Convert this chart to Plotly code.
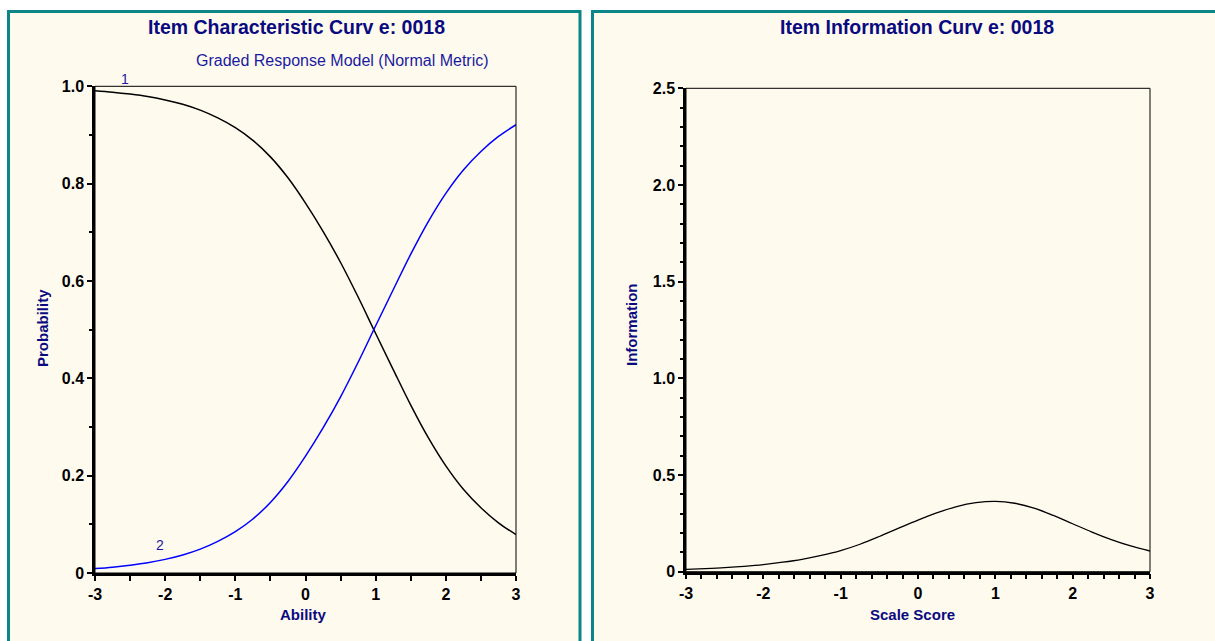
import plotly.graph_objects as go

# ---- data ----
theta = [-3.0, -2.75, -2.5, -2.25, -2.0, -1.75, -1.5, -1.25, -1.0, -0.75, -0.5, -0.25,
         0.0, 0.25, 0.5, 0.75, 1.0, 1.25, 1.5, 1.75, 2.0, 2.25, 2.5, 2.75, 3.0]
p_cat1 = [0.991, 0.988, 0.984, 0.979, 0.972, 0.963, 0.951, 0.935, 0.915, 0.889, 0.855, 0.812,
          0.760, 0.702, 0.638, 0.567, 0.492, 0.418, 0.345, 0.278, 0.220, 0.172, 0.134, 0.103, 0.079]
p_cat2 = [0.009, 0.012, 0.016, 0.021, 0.028, 0.037, 0.049, 0.065, 0.085, 0.111, 0.145, 0.188,
          0.240, 0.298, 0.362, 0.433, 0.508, 0.582, 0.655, 0.722, 0.780, 0.828, 0.866, 0.897, 0.921]
information = [0.012, 0.016, 0.021, 0.028, 0.037, 0.049, 0.064, 0.084, 0.109, 0.142, 0.182, 0.225,
               0.267, 0.305, 0.337, 0.357, 0.364, 0.354, 0.329, 0.291, 0.248, 0.205, 0.166, 0.133, 0.107]

x_ticks = [-3, -2, -1, 0, 1, 2, 3]
x_ticktext = ["-3", "-2", "-1", "0", "1", "2", "3"]
prob_ticks = [0, 0.2, 0.4, 0.6, 0.8, 1.0]
prob_ticktext = ["0", "0.2", "0.4", "0.6", "0.8", "1.0"]
info_ticks = [0, 0.5, 1.0, 1.5, 2.0, 2.5]
info_ticktext = ["0", "0.5", "1.0", "1.5", "2.0", "2.5"]

W, H = 1215, 641
NAVY = "#0a0a80"
TEAL = "#0b8585"
CREAM = "#fffaee"
FONT = "Liberation Sans, Arial, sans-serif"

def px(x):
    return x / W

def py(y):
    return 1 - y / H

fig = go.Figure()
fig.add_trace(go.Scatter(x=theta, y=p_cat1, mode="lines", line=dict(color="black", width=1.5, shape="spline"),
                         xaxis="x", yaxis="y", showlegend=False, hoverinfo="skip"))
fig.add_trace(go.Scatter(x=theta, y=p_cat2, mode="lines", line=dict(color="#0000ff", width=1.5, shape="spline"),
                         xaxis="x", yaxis="y", showlegend=False, hoverinfo="skip"))
fig.add_trace(go.Scatter(x=theta, y=information, mode="lines", line=dict(color="black", width=1.3, shape="spline"),
                         xaxis="x2", yaxis="y2", showlegend=False, hoverinfo="skip"))

tickfont = dict(family=FONT, size=16, color="black", weight="bold")

common_x = dict(range=[-3, 3], tickvals=x_ticks, ticktext=x_ticktext, ticks="outside", ticklen=5,
                tickwidth=2, tickcolor="black", showline=True, linecolor="black", linewidth=2.5,
                showgrid=False, zeroline=False, tickfont=tickfont, fixedrange=True, automargin=False)
common_y = dict(ticks="outside", ticklen=5, tickwidth=2, tickcolor="black", showline=True,
                linecolor="black", linewidth=2.5, showgrid=False, zeroline=False,
                tickfont=tickfont, fixedrange=True, automargin=False)

fig.update_layout(
    width=W, height=H,
    autosize=False,
    margin=dict(l=0, r=0, t=0, b=0, pad=0, autoexpand=False),
    paper_bgcolor="white",
    plot_bgcolor="white",
    xaxis=dict(domain=[px(95), px(516)], anchor="y",
               minor=dict(dtick=0.5, ticks="outside", ticklen=5, tickwidth=1.5, tickcolor="black"),
               **common_x),
    yaxis=dict(domain=[py(573), py(86.3)], anchor="x", range=[0, 1], tickvals=prob_ticks,
               ticktext=prob_ticktext,
               minor=dict(dtick=0.1, ticks="outside", ticklen=3, tickwidth=1.5, tickcolor="black"),
               **common_y),
    xaxis2=dict(domain=[px(686), px(1150)], anchor="y2",
                minor=dict(dtick=0.2, ticks="outside", ticklen=5, tickwidth=1.5, tickcolor="black"),
                **common_x),
    yaxis2=dict(domain=[py(571.7), py(88.3)], anchor="x2", range=[0, 2.5], tickvals=info_ticks,
                ticktext=info_ticktext,
                minor=dict(dtick=0.1, ticks="outside", ticklen=3, tickwidth=1.5, tickcolor="black"),
                **common_y),
)

shapes = [
    dict(type="rect", xref="paper", yref="paper", x0=px(8.5), x1=px(580), y0=py(648), y1=py(11.5),
         fillcolor=CREAM, line=dict(color=TEAL, width=3), layer="below"),
    dict(type="rect", xref="paper", yref="paper", x0=px(592.5), x1=px(1222), y0=py(648), y1=py(11.5),
         fillcolor=CREAM, line=dict(color=TEAL, width=3), layer="below"),
    dict(type="rect", xref="x domain", yref="y domain", x0=0, x1=1, y0=0, y1=1,
         line=dict(color="black", width=1), layer="above"),
    dict(type="rect", xref="x2 domain", yref="y2 domain", x0=0, x1=1, y0=0, y1=1,
         line=dict(color="black", width=1), layer="above"),
]
fig.update_layout(shapes=shapes)

title_font = dict(family=FONT, size=19.5, color=NAVY, weight="bold")
label_font = dict(family=FONT, size=15, color=NAVY, weight="bold")
sub_color = "#1a1aa0"
ann = [
    dict(text="Item Characteristic Curv e: 0018", x=px(296), y=py(27), font=title_font),
    dict(text="Item Information Curv e: 0018", x=px(917), y=py(27), font=title_font),
    dict(text="Graded Response Model (Normal Metric)", x=px(342), y=py(60),
         font=dict(family=FONT, size=16, color=sub_color)),
    dict(text="1", x=px(125), y=py(79), font=dict(family=FONT, size=14, color=sub_color)),
    dict(text="2", x=px(160), y=py(545), font=dict(family=FONT, size=14, color=sub_color)),
    dict(text="Ability", x=px(303), y=py(614), font=label_font),
    dict(text="Scale Score", x=px(912), y=py(614), font=label_font),
    dict(text="Probability", x=px(42), y=py(328), textangle=-90, font=label_font),
    dict(text="Information", x=px(632), y=py(325), textangle=-90, font=label_font),
]
for a in ann:
    a.update(xref="paper", yref="paper", showarrow=False, xanchor="center", yanchor="middle")
fig.update_layout(annotations=ann)

fig.write_html("out.html", config={"displayModeBar": False})

# remove the browser's default page margin so the figure sits at the window origin
with open("out.html", "r", encoding="utf-8") as f:
    html = f.read()
html = html.replace("<head>", "<head><style>html,body{margin:0;padding:0;overflow:hidden;}</style>", 1)
with open("out.html", "w", encoding="utf-8") as f:
    f.write(html)
